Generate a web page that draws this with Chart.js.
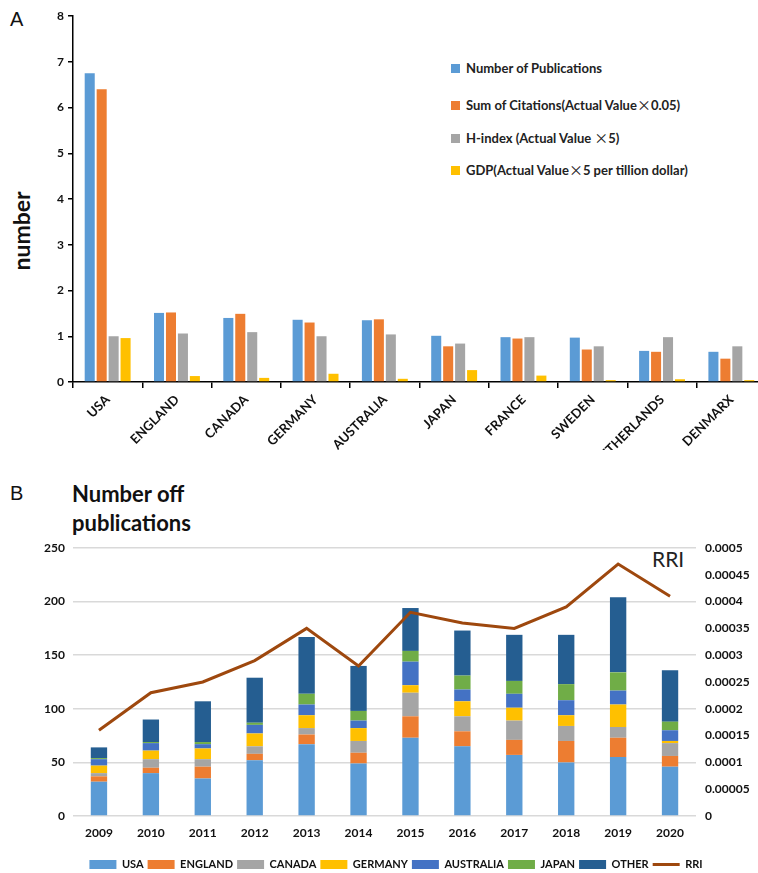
<!DOCTYPE html>
<html>
<head>
<meta charset="utf-8">
<script src="https://cdn.jsdelivr.net/npm/chart.js@4.4.1/dist/chart.umd.min.js"></script>
<style>
body{margin:0;background:#fff;overflow:hidden;width:758px;height:873px;position:relative;font-family:Lato,sans-serif}
.abs{position:absolute}
.panel{font-family:"Liberation Sans",Arial,sans-serif;font-size:20px;color:#111}
#yTitleA{left:-24px;top:217px;width:90px;text-align:center;transform:rotate(-90deg);font-weight:bold;font-size:23px;color:#111}
#legendA .item{position:absolute;left:451px;height:16px;font-weight:bold;font-size:13px;color:#222;white-space:nowrap}
#legendA .box{display:inline-block;width:9px;height:9px;margin-right:6px;vertical-align:0px}
#legendA .x{font-family:"Noto Sans CJK SC",sans-serif;font-weight:normal;font-size:14px}
#titleB{left:72px;top:479px;font-weight:bold;font-size:22px;line-height:29px;color:#111}
#rri{left:652px;top:546px;font-size:21px;color:#222}
</style>
</head>
<body>
<div class="abs panel" style="left:10px;top:8px">A</div>
<div class="abs panel" style="left:10px;top:482px">B</div>
<div class="abs" id="yTitleA">number</div>
<div class="abs" id="legendA"></div>
<div class="abs" id="titleB">Number off<br>publications</div>
<div class="abs" id="rri">RRI</div>
<canvas id="chartA" class="abs" style="left:0;top:0" width="770" height="450"></canvas>
<canvas id="chartB" class="abs" style="left:0;top:470px" width="758" height="410"></canvas>
<script>
// top chart: country comparison
const countries = ["USA","ENGLAND","CANADA","GERMANY","AUSTRALIA","JAPAN","FRANCE","SWEDEN","NETHERLANDS","DENMARX"]
const publications = [6.75,1.51,1.40,1.36,1.35,1.01,0.98,0.97,0.68,0.66]
const citations = [6.40,1.52,1.49,1.30,1.37,0.78,0.95,0.71,0.66,0.51]
const hIndex = [1.00,1.06,1.09,1.00,1.04,0.84,0.98,0.78,0.98,0.78]
const gdp = [0.96,0.13,0.09,0.18,0.07,0.26,0.14,0.04,0.06,0.04]

// bottom chart: publications per year by country, plus RRI
const years = ["2009","2010","2011","2012","2013","2014","2015","2016","2017","2018","2019","2020"]
const usa = [32,40,35,52,67,49,73,65,57,50,55,46]
const england = [5,5,11,6,9,10,20,14,14,20,18,10]
const canada = [3,8,7,7,6,11,22,14,18,14,10,12]
const germany = [7,8,10,12,12,12,7,14,12,10,21,2]
const australia = [6,7,4,8,10,7,22,11,13,14,13,10]
const japan = [1,1,2,2,10,9,10,13,12,15,17,8]
const other = [10,21,38,42,53,42,40,42,43,46,70,48]
const rri = [0.00016,0.00023,0.00025,0.00029,0.00035,0.00028,0.00038,0.00036,0.00035,0.00039,0.00047,0.00041]

Chart.defaults.font.family = "Lato, sans-serif"
Chart.defaults.color = "#111"
Chart.defaults.animation = false

const tickFont = {size:12, weight:"bold"}

const chartA = new Chart(document.getElementById("chartA"), {
type:"bar",
data:{
labels:countries,
datasets:[
{label:"Number of Publications", data:publications, backgroundColor:"#5B9BD5"},
{label:"Sum of Citations(Actual Value\u00D70.05)", data:citations, backgroundColor:"#ED7D31"},
{label:"H-index (Actual Value \u00D75)", data:hIndex, backgroundColor:"#A5A5A5"},
{label:"GDP(Actual Value\u00D75 per tillion dollar)", data:gdp, backgroundColor:"#FFC000"}
]
},
options:{
responsive:false,
categoryPercentage:0.69,
barPercentage:0.84,
layout:{padding:{top:16, right:4, left:0, bottom:0}},
plugins:{legend:{display:false}, tooltip:{enabled:false}},
scales:{
x:{
grid:{drawOnChartArea:false, tickLength:6, color:"#000", lineWidth:1.5},
border:{color:"#000", width:1.5},
ticks:{font:{size:13, weight:"bold"}, color:"#111", minRotation:45, maxRotation:45, padding:4},
afterFit(s){ s.height = 68 }
},
y:{
min:0, max:8,
grid:{drawOnChartArea:false, tickLength:5, color:"#000", lineWidth:1.5},
border:{color:"#000", width:1.5},
ticks:{font:tickFont, color:"#111", stepSize:1, padding:4},
afterFit(s){ s.width = 73 }
}
}
}
})

// legend for the top chart sits inside the plot
const legendA = document.getElementById("legendA")
const legendTops = [60,94,127,159]
chartA.data.datasets.forEach((ds,i)=>{
let item = document.createElement("div")
item.className = "item"
item.style.top = legendTops[i]+"px"
let box = document.createElement("span")
box.className = "box"
box.style.background = ds.backgroundColor
item.appendChild(box)
ds.label.split("\u00D7").forEach((part,j)=>{
if(j>0){
let x = document.createElement("span")
x.className = "x"
x.textContent = "\u00D7"
item.appendChild(x)
}
item.appendChild(document.createTextNode(part))
})
legendA.appendChild(item)
})

function legendItems(chart){
let items = Chart.defaults.plugins.legend.labels.generateLabels(chart)
items.forEach(it=>{
let ds = chart.data.datasets[it.datasetIndex]
if(ds.type=="line"){
it.pointStyle = "line"
it.lineWidth = 3
it.strokeStyle = ds.borderColor
}else{
it.pointStyle = "rect"
it.lineWidth = 0
}
})
return items
}

new Chart(document.getElementById("chartB"), {
type:"bar",
data:{
labels:years,
datasets:[
{label:"USA", data:usa, backgroundColor:"#5B9BD5", order:1},
{label:"ENGLAND", data:england, backgroundColor:"#ED7D31", order:1},
{label:"CANADA", data:canada, backgroundColor:"#A5A5A5", order:1},
{label:"GERMANY", data:germany, backgroundColor:"#FFC000", order:1},
{label:"AUSTRALIA", data:australia, backgroundColor:"#4472C4", order:1},
{label:"JAPAN", data:japan, backgroundColor:"#70AD47", order:1},
{label:"OTHER", data:other, backgroundColor:"#255E91", order:1},
{label:"RRI", type:"line", data:rri, yAxisID:"y1", borderColor:"#9E480E", backgroundColor:"#9E480E", borderWidth:3, pointRadius:0, tension:0, order:0}
]
},
options:{
responsive:false,
categoryPercentage:0.35,
barPercentage:0.9,
layout:{padding:{top:78, right:0, left:34, bottom:0}},
plugins:{
tooltip:{enabled:false},
legend:{
position:"bottom",
labels:{usePointStyle:true, pointStyleWidth:27, boxHeight:9, padding:4, font:{size:11, weight:"bold"}, color:"#111",
generateLabels:legendItems, sort:(a,b)=>a.datasetIndex-b.datasetIndex}
}
},
scales:{
x:{
stacked:true,
grid:{display:false},
border:{display:false},
ticks:{font:tickFont, color:"#111", padding:2},
afterFit(s){ s.height = 39 }
},
y:{
stacked:true,
min:0, max:250,
grid:{color:"#D9D9D9", lineWidth:1.5, drawTicks:false},
border:{display:false},
ticks:{font:tickFont, color:"#111", stepSize:50, padding:8},
afterFit(s){ s.width = 39 }
},
y1:{
position:"right",
min:0, max:0.0005,
grid:{drawOnChartArea:false, drawTicks:false},
border:{display:false},
ticks:{font:tickFont, color:"#111", stepSize:0.00005, padding:9, callback:v=>String(+v.toFixed(5))},
afterFit(s){ s.width = 62 }
}
}
}
})
</script>
</body>
</html>
